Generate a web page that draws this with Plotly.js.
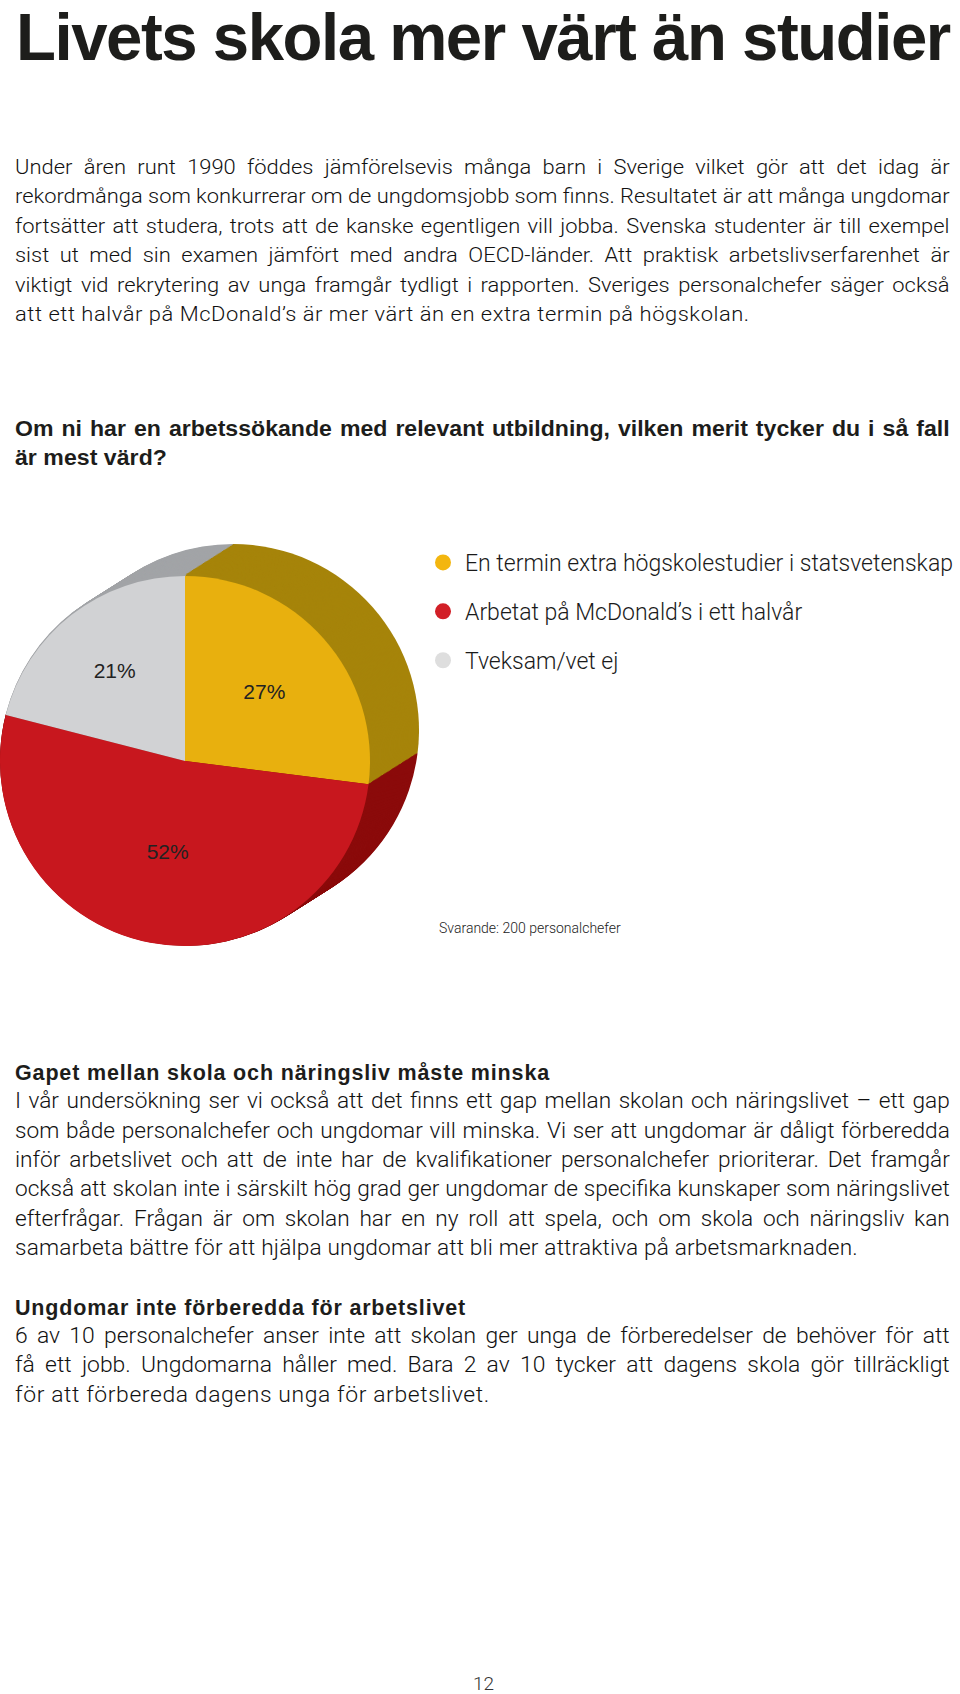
<!DOCTYPE html>
<html><head><meta charset="utf-8">
<script src="https://cdn.plot.ly/plotly-3.0.1.min.js"></script>
<style>
html,body{margin:0;padding:0;background:#fff;}
#page{position:relative;width:960px;height:1694px;overflow:hidden;background:#fff;}
#chart{position:absolute;left:0;top:0;width:960px;height:1694px;}
#txt{position:absolute;left:0;top:0;pointer-events:none;}
</style></head><body>
<div id="page"><div id="chart"></div><svg id="txt" width="960" height="1694" xmlns="http://www.w3.org/2000/svg"></svg></div>
<script>
// ---------- chart data ----------
const categories = ['En termin extra högskolestudier i statsvetenskap', 'Arbetat på McDonald’s i ett halvår', 'Tveksam/vet ej'];
const shares = [27, 52, 21];
const topColors = ['#e8b00e', '#c8171e', '#d1d2d4'];
const sideColors = ['#a6840a', '#8b0b0b', '#a2a4a7'];
const legendColors = ['#f3b60f', '#d21f27', '#dedede'];
const noteText = 'Svarande: 200 personalchefer';

// ---------- page text ----------
const titleText = 'Livets skola mer värt än studier';
const introLines = [
  'Under åren runt 1990 föddes jämförelsevis många barn i Sverige vilket gör att det idag är',
  'rekordmånga som konkurrerar om de ungdomsjobb som finns. Resultatet är att många ungdomar',
  'fortsätter att studera, trots att de kanske egentligen vill jobba. Svenska studenter är till exempel',
  'sist ut med sin examen jämfört med andra OECD-länder. Att praktisk arbetslivserfarenhet är',
  'viktigt vid rekrytering av unga framgår tydligt i rapporten. Sveriges personalchefer säger också',
  'att ett halvår på McDonald’s är mer värt än en extra termin på högskolan.'
];
const questionLines = [
  'Om ni har en arbetssökande med relevant utbildning, vilken merit tycker du i så fall',
  'är mest värd?'
];
const heading2 = 'Gapet mellan skola och näringsliv måste minska';
const section2Lines = [
  'I vår undersökning ser vi också att det finns ett gap mellan skolan och näringslivet – ett gap',
  'som både personalchefer och ungdomar vill minska. Vi ser att ungdomar är dåligt förberedda',
  'inför arbetslivet och att de inte har de kvalifikationer personalchefer prioriterar. Det framgår',
  'också att skolan inte i särskilt hög grad ger ungdomar de specifika kunskaper som näringslivet',
  'efterfrågar. Frågan är om skolan har en ny roll att spela, och om skola och näringsliv kan',
  'samarbeta bättre för att hjälpa ungdomar att bli mer attraktiva på arbetsmarknaden.'
];
const heading3 = 'Ungdomar inte förberedda för arbetslivet';
const section3Lines = [
  '6 av 10 personalchefer anser inte att skolan ger unga de förberedelser de behöver för att',
  'få ett jobb. Ungdomarna håller med. Bara 2 av 10 tycker att dagens skola gör tillräckligt',
  'för att förbereda dagens unga för arbetslivet.'
];
const pageNumber = '12';

// ---------- text rendering ----------
const svg = document.getElementById('txt');
const NS = 'http://www.w3.org/2000/svg';
const BODY = 'Roboto, "Liberation Sans", sans-serif';
const BOLD = '"Liberation Sans", Arial, sans-serif';
function addLine(str, x, y, target, o) {
  const t = document.createElementNS(NS, 'text');
  t.setAttribute('x', x); t.setAttribute('y', y);
  t.setAttribute('font-family', o.family);
  t.setAttribute('font-size', o.size);
  t.setAttribute('font-weight', o.weight || 400);
  t.setAttribute('fill', o.color || '#222');
  if (o.anchor) t.setAttribute('text-anchor', o.anchor);
  if (o.ls) t.style.letterSpacing = o.ls + 'px';
  t.textContent = str;
  svg.appendChild(t);
  if (target) {
    const s0 = o.stretch || 1;
    const w = t.getComputedTextLength();
    let s = s0;
    if (w * s0 > target) {
      s = target / w;
    } else if (o.justify) {
      const n = (str.match(/ /g) || []).length;
      if (n) t.style.wordSpacing = ((target - w * s0) / (n * s0)) + 'px';
    } else {
      t.style.letterSpacing = ((o.ls || 0) + (target - w * s0) / (str.length * s0)) + 'px';
    }
    if (s !== 1) t.setAttribute('transform', 'translate(' + x + ',0) scale(' + s + ',1) translate(' + (-x) + ',0)');
  }
  return t;
}
function block(lines, x, y0, pitch, full, lastW, o) {
  lines.forEach((s, i) => {
    const last = i === lines.length - 1;
    addLine(s, x, y0 + i * pitch, last ? lastW : full, Object.assign({}, o, {justify: !last}));
  });
}
const L = 15, FULL = 935;
addLine(titleText, 16, 60, 934, {family: BOLD, size: 66, weight: 700, color: '#1d1d1b', ls: -1.5});
block(introLines, L, 174, 29.4, FULL, 735, {family: BODY, size: 20.5, weight: 300, color: '#111', stretch: 1.07});
block(questionLines, L, 436, 29.3, FULL, 152, {family: BOLD, size: 22, weight: 700, color: '#1d1d1b', stretch: 1.05});
addLine(heading2, L, 1080, 535, {family: BOLD, size: 21.5, weight: 700, color: '#1d1d1b'});
block(section2Lines, L, 1108.5, 29.3, FULL, 843, {family: BODY, size: 22, weight: 300, color: '#111', stretch: 1.03});
addLine(heading3, L, 1315, 451, {family: BOLD, size: 21.5, weight: 700, color: '#1d1d1b'});
block(section3Lines, L, 1343.3, 29.2, FULL, 475, {family: BODY, size: 22, weight: 300, color: '#111', stretch: 1.04});
addLine(pageNumber, 483.5, 1690, 0, {family: BODY, size: 19, weight: 300, color: '#333', anchor: 'middle'});

// ---------- chart ----------
const W = 960, H = 1694;
const cx = 184, cy = 761, R = 186;      // front face of the pie (px)
const dx = 49, dy = -31, N = 44;         // extrusion of the pie side
function dom(x, y, r) { return {x: [(x - r) / W, (x + r) / W], y: [1 - (y + r) / H, 1 - (y - r) / H]}; }
const traces = [];
for (let i = N; i >= 1; i--) {
  const t = i / N;
  traces.push({
    type: 'pie', labels: categories, values: shares, sort: false, direction: 'clockwise', rotation: 0,
    marker: {colors: sideColors, line: {width: 0}}, textinfo: 'none', hoverinfo: 'skip', showlegend: false,
    domain: dom(cx + dx * t, cy + dy * t, R)
  });
}
traces.push({
  type: 'pie', labels: categories, values: shares, sort: false, direction: 'clockwise', rotation: 0,
  marker: {colors: topColors, line: {width: 0}},
  texttemplate: '%{value}%', textposition: 'inside', insidetextorientation: 'horizontal',
  textfont: {family: '"Liberation Sans", Arial, sans-serif', size: 21, color: '#222'},
  hoverinfo: 'skip', showlegend: false, domain: dom(cx, cy, R)
});
categories.forEach((c, k) => {
  traces.push({
    type: 'scatter', mode: 'markers', x: [null], y: [null], name: c, legendgroup: 'g' + k,
    marker: {color: legendColors[k], size: 18}, hoverinfo: 'skip', showlegend: true
  });
});
const layout = {
  width: W, height: H, margin: {l: 0, r: 0, t: 0, b: 0},
  paper_bgcolor: 'rgba(0,0,0,0)', plot_bgcolor: 'rgba(0,0,0,0)',
  xaxis: {visible: false}, yaxis: {visible: false},
  hovermode: false, showlegend: true,
  legend: {
    x: 421 / W, y: 1 - 541 / H, xanchor: 'left', yanchor: 'top', traceorder: 'grouped',
    tracegroupgap: 16, itemwidth: 34, bgcolor: 'rgba(0,0,0,0)', borderwidth: 0,
    font: {family: 'Roboto, "Liberation Sans", sans-serif', weight: 300, size: 23, color: '#1a1a1a'}
  },
  annotations: [{
    text: noteText, showarrow: false, xref: 'paper', yref: 'paper',
    x: 437 / W, y: 1 - 928 / H, xanchor: 'left', yanchor: 'middle',
    font: {family: 'Roboto, "Liberation Sans", sans-serif', weight: 300, size: 14, color: '#222'}
  }]
};
Plotly.newPlot('chart', traces, layout, {staticPlot: true, displayModeBar: false});
</script>
</body></html>
